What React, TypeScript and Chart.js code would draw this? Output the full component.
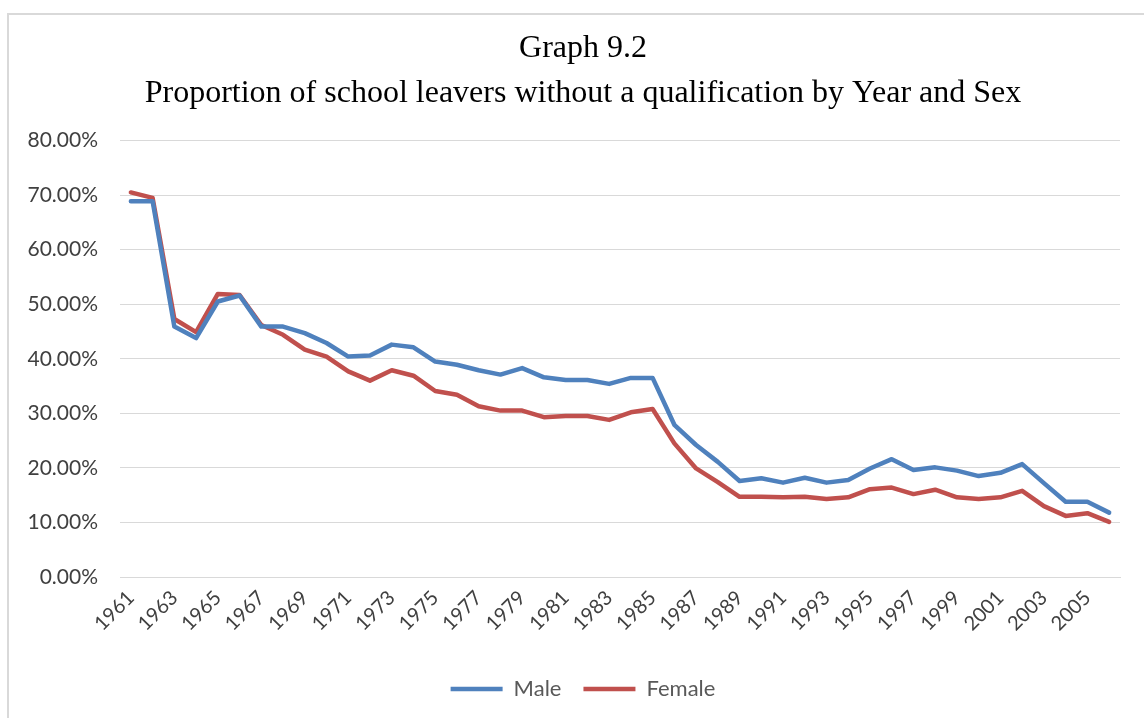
import React, { useEffect, useRef } from "react";
import { Chart, registerables } from "chart.js";

Chart.register(...registerables);

const years: string[] = [
  "1961","1962","1963","1964","1965","1966","1967","1968","1969","1970",
  "1971","1972","1973","1974","1975","1976","1977","1978","1979","1980",
  "1981","1982","1983","1984","1985","1986","1987","1988","1989","1990",
  "1991","1992","1993","1994","1995","1996","1997","1998","1999","2000",
  "2001","2002","2003","2004","2005","2006",
];

const maleValues: number[] = [
  68.9, 68.9, 45.9, 43.8, 50.5, 51.6, 45.9, 45.9, 44.7, 42.9,
  40.4, 40.6, 42.6, 42.1, 39.5, 38.9, 37.9, 37.1, 38.3, 36.6,
  36.1, 36.1, 35.4, 36.5, 36.5, 27.9, 24.2, 21.1, 17.6, 18.1,
  17.3, 18.2, 17.3, 17.8, 19.9, 21.6, 19.6, 20.1, 19.5, 18.5,
  19.1, 20.7, 17.2, 13.8, 13.8, 11.8,
];

const femaleValues: number[] = [
  70.5, 69.5, 47.3, 44.9, 51.9, 51.7, 46.2, 44.4, 41.7, 40.4,
  37.7, 36.0, 37.9, 36.9, 34.1, 33.4, 31.3, 30.5, 30.5, 29.3,
  29.5, 29.5, 28.8, 30.2, 30.8, 24.5, 19.9, 17.4, 14.7, 14.7,
  14.6, 14.7, 14.3, 14.6, 16.1, 16.4, 15.2, 16.0, 14.6, 14.3,
  14.6, 15.8, 13.0, 11.2, 11.7, 10.1,
];

const titleLines: string[] = [
  "Graph 9.2",
  "Proportion of school leavers without a qualification by Year and Sex",
];

const seriesNames: string[] = ["Male", "Female"];

export default function App() {
  const canvasRef = useRef<HTMLCanvasElement | null>(null);

  useEffect(() => {
    const canvas = canvasRef.current;
    if (!canvas) return;
    const chart = new Chart(canvas, {
      type: "line",
      data: {
        labels: years,
        datasets: [
          {
            label: seriesNames[0],
            data: maleValues,
            borderColor: "#4F81BD",
            backgroundColor: "#4F81BD",
            borderWidth: 4.5,
            pointRadius: 0,
            pointHoverRadius: 0,
            tension: 0,
            borderJoinStyle: "round",
            borderCapStyle: "round",
          },
          {
            label: seriesNames[1],
            data: femaleValues,
            borderColor: "#C0504D",
            backgroundColor: "#C0504D",
            borderWidth: 4.5,
            pointRadius: 0,
            pointHoverRadius: 0,
            tension: 0,
            borderJoinStyle: "round",
            borderCapStyle: "round",
          },
        ],
      },
      options: {
        responsive: false,
        animation: false,
        layout: { padding: { left: 0, right: 0, top: 0, bottom: 8 } },
        plugins: {
          tooltip: { enabled: false },
          title: {
            display: true,
            text: titleLines,
            color: "#000000",
            font: { family: "'Liberation Serif', 'Times New Roman', serif", size: 32, weight: "normal", lineHeight: 1.4 },
            padding: { top: 26, bottom: 25 },
          },
          legend: {
            position: "bottom",
            labels: {
              usePointStyle: true,
              pointStyle: "line",
              pointStyleWidth: 52,
              boxHeight: 20,
              padding: 22,
              color: "#595959",
              font: { family: "Lato, sans-serif", size: 22 },
            },
          },
        },
        scales: {
          x: {
            type: "category",
            offset: true,
            grid: { display: false, drawTicks: false },
            border: { display: true, color: "#d9d9d9", width: 1 },
            ticks: {
              autoSkip: false,
              maxRotation: 45,
              minRotation: 45,
              padding: 9,
              color: "#404040",
              font: { family: "Lato, sans-serif", size: 20 },
              callback: (_v: any, i: number) => (i % 2 === 0 ? years[i] : ""),
            },
            afterFit: (scale: any) => {
              scale.height = 79;
            },
          },
          y: {
            min: 0,
            max: 80,
            grid: { color: "#d9d9d9", lineWidth: 1, drawTicks: false },
            border: { display: false },
            ticks: {
              stepSize: 10,
              padding: 22,
              color: "#404040",
              font: { family: "Lato, sans-serif", size: 21 },
              callback: (v: any) => `${Number(v).toFixed(2)}%`,
            },
            afterFit: (scale: any) => {
              scale.width = 112;
            },
          },
          yRight: {
            position: "right",
            display: true,
            min: 0,
            max: 80,
            grid: { display: false, drawTicks: false },
            border: { display: false },
            ticks: { display: false },
            afterFit: (scale: any) => {
              scale.width = 38;
            },
          },
        },
      },
    });
    return () => chart.destroy();
  }, []);

  return (
    <div style={{ position: "absolute", left: 0, top: 0, width: 1144, height: 718, overflow: "hidden", background: "#ffffff" }}>
      <div
        style={{
          position: "absolute",
          left: 7,
          top: 13,
          width: 1160,
          height: 720,
          border: "2px solid #d9d9d9",
          boxSizing: "border-box",
        }}
      />
      <canvas
        ref={canvasRef}
        width={1150}
        height={718}
        style={{ position: "absolute", left: 8, top: 0, width: 1150, height: 718 }}
      />
    </div>
  );
}
